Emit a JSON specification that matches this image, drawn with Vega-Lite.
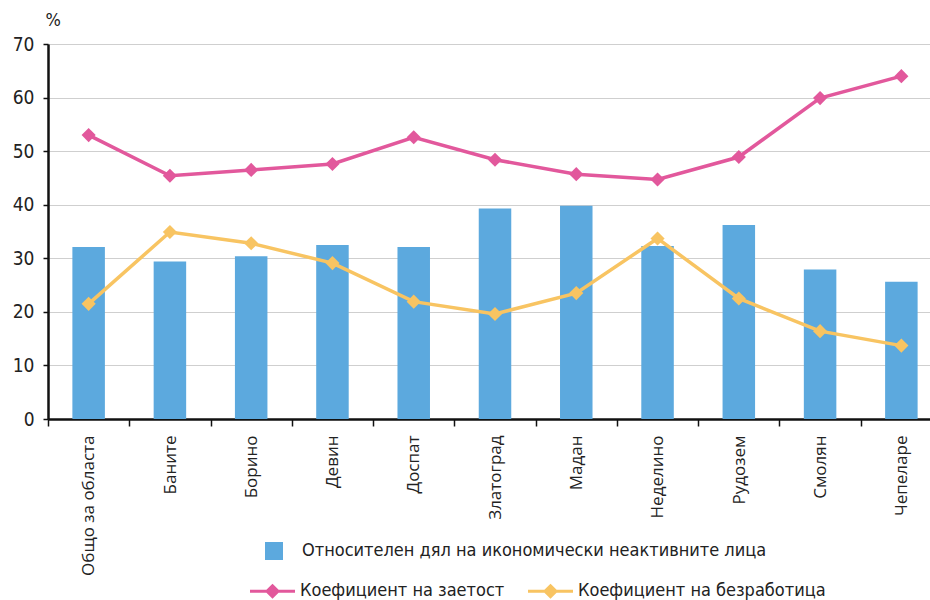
{
  "$schema": "https://vega.github.io/schema/vega-lite/v6.json",
  "autosize": {"type": "none"},
  "width": 882,
  "height": 375,
  "padding": {"left": 48, "top": 44, "right": 0, "bottom": 181},
  "background": "white",
  "data": {"values": [
    {"cat": "Общо за областа", "inactive": 32.1, "emp": 53.0, "unemp": 21.5},
    {"cat": "Баните", "inactive": 29.4, "emp": 45.4, "unemp": 34.9},
    {"cat": "Борино", "inactive": 30.4, "emp": 46.5, "unemp": 32.8},
    {"cat": "Девин", "inactive": 32.5, "emp": 47.6, "unemp": 29.1},
    {"cat": "Доспат", "inactive": 32.1, "emp": 52.6, "unemp": 21.9},
    {"cat": "Златоград", "inactive": 39.3, "emp": 48.4, "unemp": 19.6},
    {"cat": "Мадан", "inactive": 39.8, "emp": 45.7, "unemp": 23.5},
    {"cat": "Неделино", "inactive": 32.3, "emp": 44.7, "unemp": 33.7},
    {"cat": "Рудозем", "inactive": 36.2, "emp": 48.9, "unemp": 22.5},
    {"cat": "Смолян", "inactive": 27.9, "emp": 59.9, "unemp": 16.4},
    {"cat": "Чепеларе", "inactive": 25.6, "emp": 64.0, "unemp": 13.7}
  ]},
  "encoding": {
    "x": {
      "field": "cat", "type": "nominal", "sort": null,
      "scale": {"range": [0, 894], "paddingInner": 0.6, "paddingOuter": 0.3},
      "axis": {
        "title": null, "labelAngle": 270, "labelFont": "Open Sans", "labelFontSize": 17,
        "labelColor": "#222", "labelPadding": 9,
        "domainColor": "#111", "domainWidth": 2.5,
        "tickColor": "#111", "tickWidth": 1.5, "tickSize": 7,
        "bandPosition": 0, "tickOffset": -24.4, "labelOffset": 24.6,
        "grid": false
      }
    }
  },
  "layer": [
    {
      "mark": {"type": "bar"},
      "encoding": {
        "y": {
          "field": "inactive", "type": "quantitative",
          "scale": {"domain": [0, 70]},
          "axis": {
            "values": [0, 10, 20, 30, 40, 50, 60, 70],
            "title": "%", "titleAngle": 0, "titleX": -3, "titleY": -15, "titleAlign": "left",
            "titleBaseline": "bottom",
            "titleFont": "DejaVu Sans Condensed", "titleFontSize": 18, "titleFontWeight": "normal", "titleColor": "#222",
            "labelFont": "DejaVu Sans Condensed", "labelFontSize": 19, "labelColor": "#222", "labelPadding": 9,
            "domainColor": "#111", "domainWidth": 2.5,
            "tickColor": "#111", "tickWidth": 1.5, "tickSize": 5,
            "gridColor": "#cfcfcf", "gridWidth": 1.2
          }
        },
        "fill": {
          "datum": "Относителен дял на икономически неактивните лица",
          "scale": {"range": ["#5CA9DE"]},
          "legend": {
            "title": null, "orient": "none", "legendX": 217, "legendY": 498,
            "symbolType": "square", "symbolSize": 324, "symbolStrokeWidth": 0,
            "labelFont": "DejaVu Sans Condensed", "labelFontSize": 18, "labelColor": "#222", "labelOffset": 19, "labelLimit": 0
          }
        }
      }
    },
    {
      "transform": [{"fold": ["emp", "unemp"], "as": ["key", "val"]},
        {"calculate": "datum.key == 'emp' ? 'Коефициент на заетост' : 'Коефициент на безработица'", "as": "series"}],
      "mark": {"type": "line", "strokeWidth": 3.5, "point": {"shape": "diamond", "filled": true, "size": 200}},
      "encoding": {
        "y": {"field": "val", "type": "quantitative"},
        "color": {
          "field": "series", "type": "nominal",
          "sort": ["Коефициент на заетост", "Коефициент на безработица"],
          "scale": {"domain": ["Коефициент на заетост", "Коефициент на безработица"], "range": ["#E2589C", "#F8C462"]},
          "legend": {
            "title": null, "orient": "none", "legendX": 215.5, "legendY": 538, "direction": "horizontal",
            "symbolType": "M-4.5,0H4.5M0,-1.1L1.1,0L0,1.1L-1.1,0Z", "symbolSize": 100, "symbolStrokeWidth": 3,
            "labelFont": "DejaVu Sans Condensed", "labelFontSize": 18, "labelColor": "#222", "labelOffset": 18.5, "labelLimit": 0,
            "columnPadding": 17
          }
        }
      }
    }
  ]
}
